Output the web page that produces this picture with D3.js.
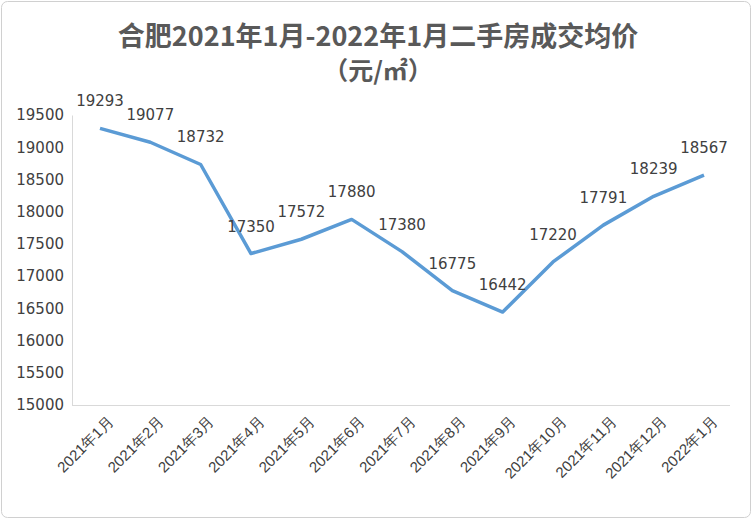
<!DOCTYPE html><html><head><meta charset="utf-8"><script src="https://cdn.jsdelivr.net/npm/d3@7"></script>
<style>body{margin:0;background:#fff;font-family:"Noto Sans CJK SC","DejaVu Sans",sans-serif}</style></head><body>
<svg id="c" width="752" height="519"></svg>
<script>
const categories=["2021年1月","2021年2月","2021年3月","2021年4月","2021年5月","2021年6月","2021年7月","2021年8月","2021年9月","2021年10月","2021年11月","2021年12月","2022年1月"];
const values=[19293,19077,18732,17350,17572,17880,17380,16775,16442,17220,17791,18239,18567];
const yTicks=[15000,15500,16000,16500,17000,17500,18000,18500,19000,19500];
const svg=d3.select("#c");
svg.append("rect").attr("x",1.5).attr("y",1.5).attr("width",749).attr("height",516).attr("rx",6).attr("fill","#fff").attr("stroke","#d0d0d0");
svg.append("text").attr("x",378).attr("y",46).attr("text-anchor","middle").attr("font-size",27).attr("font-weight","bold").attr("fill","#595959").text("合肥2021年1月-2022年1月二手房成交均价");
svg.append("text").attr("x",378).attr("y",80).attr("text-anchor","middle").attr("font-size",25).attr("font-weight","bold").attr("fill","#595959").text("（元/㎡）");
const x=d3.scalePoint().domain(categories).range([100,704]);
const y=d3.scaleLinear().domain([15000,19500]).range([405,115]);
const ya=svg.append("g").attr("transform","translate(72,0)").call(d3.axisLeft(y).tickValues(yTicks).tickSize(0).tickPadding(8).tickFormat(d3.format("d")));
ya.select(".domain").attr("stroke","#d9d9d9");
ya.selectAll("text").attr("font-size",15).attr("fill","#404040").attr("font-family","DejaVu Sans, sans-serif");
const xa=svg.append("g").attr("transform","translate(0,405)").call(d3.axisBottom(x).tickSize(0));
xa.select(".domain").attr("stroke","#d9d9d9").attr("d","M72,0.5H730");
xa.selectAll("text").attr("font-size",15).attr("fill","#404040").attr("text-anchor","end").attr("transform","translate(8,12) rotate(-45)").attr("dy","0.35em");
svg.append("path").datum(values).attr("fill","none").attr("stroke","#5B9BD5").attr("stroke-width",3.5).attr("stroke-linejoin","round")
 .attr("d",d3.line().x((d,i)=>x(categories[i])).y(d=>y(d)));
svg.selectAll(".lb").data(values).enter().append("text").attr("x",(d,i)=>x(categories[i])).attr("y",d=>y(d)-22)
 .attr("text-anchor","middle").attr("font-size",15).attr("fill","#404040").attr("font-family","DejaVu Sans, sans-serif").text(d=>d);
</script></body></html>
